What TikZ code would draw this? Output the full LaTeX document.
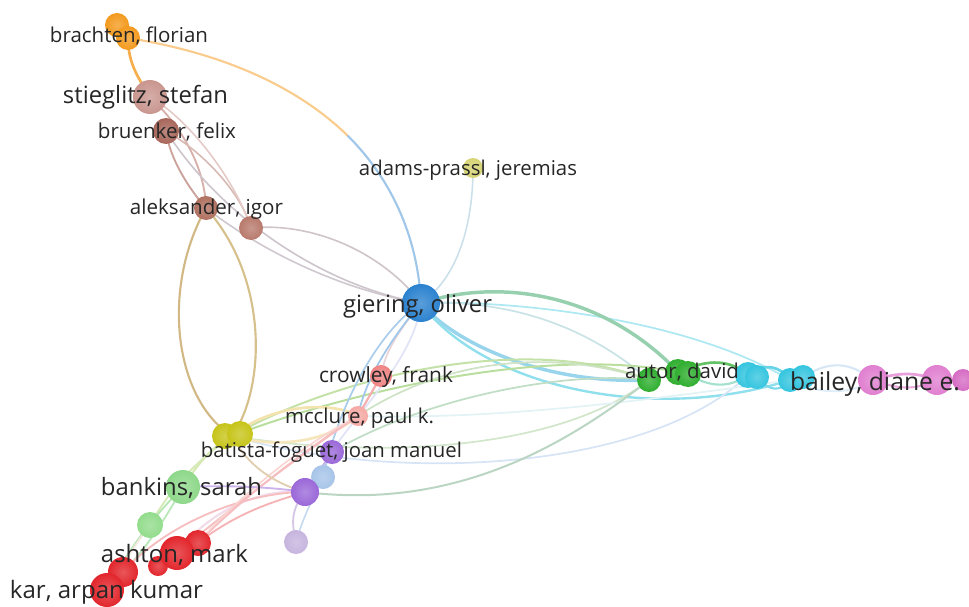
\documentclass[tikz,border=0pt]{standalone}
\usepackage{fontspec}
\setmainfont{Open Sans}
\usepackage{graphicx}
\definecolor{labc}{HTML}{262626}
\definecolor{cOr}{HTML}{F39A1E}
\definecolor{cSt}{HTML}{C9968F}
\definecolor{cBu}{HTML}{A8665A}
\definecolor{cAl}{HTML}{B0705F}
\definecolor{cNb}{HTML}{B87A6C}
\definecolor{cAd}{HTML}{D6D474}
\definecolor{cGi}{HTML}{2B82CF}
\definecolor{cCr}{HTML}{F08383}
\definecolor{cMc}{HTML}{F5A9A4}
\definecolor{cBa}{HTML}{C6C418}
\definecolor{cPu}{HTML}{9A68D8}
\definecolor{cLb}{HTML}{A6C4E8}
\definecolor{cLv}{HTML}{C6B4DE}
\definecolor{cBk}{HTML}{8ED88A}
\definecolor{cGs}{HTML}{92DC8C}
\definecolor{cRd}{HTML}{E2262C}
\definecolor{cAu}{HTML}{2FAE2F}
\definecolor{cCy}{HTML}{35C5DF}
\definecolor{cPk}{HTML}{E07FD0}
\definecolor{cPk2}{HTML}{D66CC4}
\newcommand{\ball}[4]{\node[circle, inner sep=0pt, minimum size=#3*1.5pt, shading=radial, inner color=#4!78!white, outer color=#4] (#1) at (#2) {};}
\newcommand{\lab}[4]{\node[anchor=base, inner sep=0pt, text=labc] (#1) at (#2) {\resizebox{#3pt}{!}{#4}};}
\tikzset{ed/.style={line width=#1*1.0pt, line cap=round}, ed/.default=1.4}
\begin{document}
\begin{tikzpicture}[x=0.75pt,y=-0.75pt]
\useasboundingbox (0,0) rectangle (969,606);
% node coordinates
\coordinate (br1) at (117,25); \coordinate (br2) at (128,38);
\coordinate (st) at (150,97); \coordinate (bu) at (166,131);
\coordinate (al) at (206,208); \coordinate (nb) at (251,228);
\coordinate (ad) at (473,168); \coordinate (gi) at (421,303);
\coordinate (cr) at (381,376); \coordinate (mc) at (358,416);
\coordinate (ba) at (232,436);
\coordinate (pu1) at (332,452); \coordinate (lb) at (323,477);
\coordinate (pu2) at (305,492); \coordinate (lv) at (296,542);
\coordinate (bk) at (183,487); \coordinate (gs) at (150,525);
\coordinate (rd1) at (177,553); \coordinate (rd2) at (198,543);
\coordinate (rd3) at (158,566); \coordinate (rd4) at (123,572);
\coordinate (rd5) at (107,590);
\coordinate (au1) at (649,380); \coordinate (au2) at (678,372); \coordinate (au3) at (688,374);
\coordinate (cy1) at (748,375); \coordinate (cy2) at (757,377);
\coordinate (cy3) at (790,380); \coordinate (cy4) at (803,377);
\coordinate (bl1) at (873,380); \coordinate (bl2) at (937,380); \coordinate (bl3) at (963,380);
\coordinate (m1) at (348,136);
% ---- edges ----
\draw[ed=2, color=cOr!80!white] (br2) .. controls (128,65) and (140,80) .. (st);
\draw[ed=1.6, color=cOr!50!white] (br2) .. controls (229,54) and (301,90) .. (m1);
\draw[ed=1.6, color=cGi!45!white] (m1) .. controls (395,183) and (418,242) .. (gi);
\draw[ed, color=cSt!75!white] (st) .. controls (185,130) and (205,170) .. (al);
\draw[ed, color=cBu!60!white] (bu) .. controls (170,160) and (190,190) .. (al);
\draw[ed=1.2, color=cBu!45!white] (bu) .. controls (200,150) and (240,190) .. (nb);
\draw[ed=1.2, color=cSt!50!white] (st) .. controls (190,120) and (235,180) .. (nb);
\draw[ed=1.2, color=cGi!25!cSt!50!white] (al) .. controls (260,250) and (340,290) .. (gi);
\draw[ed=1.2, color=cGi!25!cNb!45!white] (nb) .. controls (310,222) and (380,250) .. (gi);
\draw[ed=1.2, color=cGi!30!cBu!40!white] (bu) .. controls (220,215) and (320,285) .. (gi);
\draw[ed=1.6, color=cBa!40!cAl!65!white] (al) .. controls (160,290) and (175,400) .. (ba);
\draw[ed=1.6, color=cBa!45!cAl!60!white] (al) .. controls (270,280) and (265,390) .. (ba);
\draw[ed=1.2, color=cAd!25!cGi!30!white] (ad) .. controls (473,230) and (455,280) .. (gi);
% giering -> autor / cyan
\draw[ed=1.3, color=cCy!40!white] (gi) .. controls (520,300) and (690,320) .. (cy3);
\draw[ed=1.3, color=cAu!30!cGi!25!white] (gi) .. controls (500,300) and (580,320) .. (au1);
\draw[ed=2.6, color=cAu!70!cGi!50!white] (gi) .. controls (510,275) and (610,300) .. (au2);
\draw[ed=2.6, color=cCy!60!cGi!50!white] (gi) .. controls (450,340) and (540,385) .. (au1);
\draw[ed=1.8, color=cCy!55!white] (gi) .. controls (480,385) and (650,425) .. (cy3);
% batista -> autor etc
\draw[ed=1.5, color=cBa!40!cAu!40!white] (ba) .. controls (330,380) and (520,330) .. (au1);
\draw[ed=1.5, color=cBa!35!cAu!45!white] (ba) .. controls (340,395) and (540,345) .. (au2);
\draw[ed=1.3, color=cMc!35!cAu!35!white] (mc) .. controls (450,355) and (560,350) .. (au1);
\draw[ed=1.3, color=cMc!30!cAu!30!white] (ba) .. controls (380,460) and (560,450) .. (au1);
\draw[ed=1.3, color=cLb!45!white] (ba) .. controls (400,485) and (650,470) .. (cy1);
\draw[ed=1.3, color=cMc!30!cCy!20!white] (mc) .. controls (500,420) and (650,400) .. (cy3);
\draw[ed=1.3, color=cPu!25!cAu!35!white] (pu1) .. controls (420,400) and (560,370) .. (au1);
\draw[ed=1.5, color=cPu!35!cAu!40!white] (pu2) .. controls (450,510) and (560,450) .. (au1);
% batista - mcclure lens
\draw[ed=2, color=cBa!50!cOr!35!white] (ba) .. controls (270,405) and (330,400) .. (mc);
\draw[ed=2, color=cBa!45!cOr!30!white] (ba) .. controls (280,450) and (330,440) .. (mc);
% giering downwards
\draw[ed=1.3, color=cGi!25!cCr!35!white] (gi) .. controls (400,330) and (385,350) .. (cr);
\draw[ed=1.3, color=cGi!45!white] (gi) .. controls (390,340) and (365,380) .. (mc);
\draw[ed=1.3, color=cGi!45!cPu!20!white] (gi) .. controls (415,360) and (350,420) .. (pu1);
\draw[ed=1.3, color=cGi!40!white] (gi) .. controls (380,330) and (340,400) .. (lb);
\draw[ed=1.6, color=cCr!65!white] (cr) -- (mc);
% green / yellow left
\draw[ed=1.6, color=cBa!45!cBk!45!white] (bk) .. controls (200,460) and (215,445) .. (ba);
\draw[ed=1.4, color=cBa!40!cBk!45!white] (gs) .. controls (175,480) and (205,455) .. (ba);
\draw[ed=1.4, color=cBk!65!white] (rd5) .. controls (130,545) and (160,510) .. (bk);
\draw[ed=1.4, color=cBk!60!white] (rd4) .. controls (150,545) and (170,510) .. (bk);
\draw[ed=1.4, color=cBk!55!cRd!20!white] (gs) .. controls (135,545) and (125,560) .. (rd5);
% red -> purple / mcclure
\draw[ed=1.6, color=cRd!40!cPu!20!white] (rd1) .. controls (210,510) and (260,488) .. (pu2);
\draw[ed=1.4, color=cRd!35!white] (rd2) .. controls (240,510) and (280,500) .. (pu2);
\draw[ed=1.4, color=cRd!30!white] (rd4) .. controls (170,520) and (250,492) .. (pu2);
\draw[ed=1.4, color=cRd!30!white] (rd2) .. controls (250,490) and (320,440) .. (mc);
\draw[ed=1.4, color=cRd!30!white] (rd1) .. controls (235,505) and (300,455) .. (mc);
\draw[ed=1.2, color=cMc!50!white] (mc) .. controls (300,445) and (230,505) .. (rd2);
\draw[ed=1.4, color=cPu!50!white] (bk) .. controls (230,485) and (270,487) .. (pu2);
\draw[ed=1.4, color=cBa!35!cNb!45!white] (ba) .. controls (250,470) and (280,485) .. (pu2);
% purple cluster
\draw[ed=1.4, color=cLv!75!white] (pu2) .. controls (290,510) and (292,525) .. (lv);
\draw[ed=1.2, color=cLb!65!white] (lb) .. controls (312,500) and (302,520) .. (lv);
\draw[ed=1.4, color=cPu!55!white] (pu1) -- (pu2);
\draw[ed=1.4, color=cLb!75!white] (lb) -- (pu2);
% right part
\draw[ed=2, color=cAu!75!white] (au2) .. controls (710,358) and (730,360) .. (cy1);
\draw[ed=1.6, color=cAu!45!cCy!45!white] (au3) .. controls (710,388) and (730,388) .. (cy1);
\draw[ed=2, color=cCy!75!white] (cy1) .. controls (765,362) and (780,366) .. (cy3);
\draw[ed=1.6, color=cCy!65!white] (cy2) .. controls (770,392) and (780,392) .. (cy3);
\draw[ed=1.6, color=cPu!40!cCy!25!white] (cy4) .. controls (830,360) and (850,362) .. (bl1);
\draw[ed=1.4, color=cPu!35!cCy!20!white] (cy3) .. controls (820,395) and (850,395) .. (bl1);
\draw[ed=2, color=cPk!75!white] (bl1) .. controls (900,372) and (915,372) .. (bl2);
\draw[ed=1.6, color=cPk!65!white] (bl1) .. controls (900,390) and (915,390) .. (bl2);
\draw[ed=2, color=cPk2!75!white] (bl2) -- (bl3);
% ---- nodes ----
\ball{nbr1}{br1}{12}{cOr}
\ball{nbr2}{br2}{12}{cOr}
\ball{nst}{st}{17}{cSt}
\ball{nbu}{bu}{13}{cBu}
\ball{nal}{al}{12}{cAl}
\ball{nnb}{nb}{12}{cNb}
\ball{nad}{ad}{10}{cAd}
\ball{ngi}{gi}{19}{cGi}
\ball{ncr}{cr}{11}{cCr}
\ball{nmc}{mc}{10}{cMc}
\ball{nba1}{225,436}{13}{cBa}
\ball{nba2}{240,434}{13}{cBa}
\ball{nlv}{lv}{12}{cLv}
\ball{nlb}{lb}{12}{cLb}
\ball{npu2}{pu2}{14}{cPu}
\ball{npu1}{pu1}{12}{cPu}
\ball{nbk}{bk}{17}{cBk}
\ball{ngs}{gs}{13}{cGs}
\ball{nrd2}{rd2}{13}{cRd}
\ball{nrd3}{rd3}{10}{cRd}
\ball{nrd1}{rd1}{17}{cRd}
\ball{nrd4}{rd4}{15}{cRd}
\ball{nrd5}{rd5}{17}{cRd}
\ball{nau1}{au1}{12}{cAu}
\ball{nau2}{au2}{13}{cAu}
\ball{nau3}{au3}{13}{cAu}
\ball{ncy1}{cy1}{13}{cCy}
\ball{ncy2}{cy2}{12}{cCy}
\ball{ncy3}{cy3}{12}{cCy}
\ball{ncy4}{cy4}{12}{cCy}
\ball{nbl1}{bl1}{15}{cPk}
\ball{nbl2}{bl2}{15}{cPk}
\ball{nbl3}{bl3}{11}{cPk2}
% ---- labels ----
\lab{tbr}{129,43}{118.5}{brachten, florian}
\lab{tst}{145.5,104}{123.75}{stieglitz, stefan}
\lab{tbu}{167,138}{103.5}{bruenker, felix}
\lab{tal}{206.5,214}{114.75}{aleksander, igor}
\lab{tad}{468,175}{163.5}{adams-prassl, jeremias}
\lab{tgi}{417.5,312}{111.75}{giering, oliver}
\lab{tcr}{386,382}{100.5}{crowley, frank}
\lab{tmc}{359.5,423}{111.75}{mcclure, paul k.}
\lab{tba}{331.5,457}{195.75}{batista-foguet, joan manuel}
\lab{tbk}{181.5,495}{120.75}{bankins, sarah}
\lab{tas}{174.5,562}{110.25}{ashton, mark}
\lab{tka}{106.5,598}{144.75}{kar, arpan kumar}
\lab{tau}{682,378}{85.5}{autor, david}
\lab{tbl}{875,390}{127.5}{bailey, diane e.}
\end{tikzpicture}
\end{document}
